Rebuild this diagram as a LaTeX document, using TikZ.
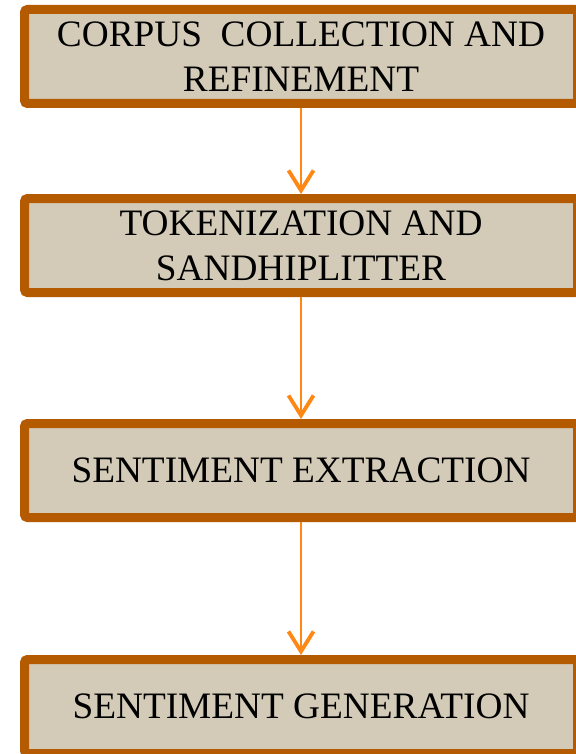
\documentclass[tikz,border=0pt]{standalone}
\usepackage{fontspec}
\setmainfont{Liberation Serif}
\usetikzlibrary{arrows.meta}
\definecolor{boxborder}{RGB}{180,90,0}
\definecolor{boxfill}{RGB}{211,203,183}
\definecolor{arrowline}{RGB}{255,136,20}
\begin{document}
\begin{tikzpicture}[x=1pt,y=1pt,
    stagebox/.style={draw=boxborder, fill=boxfill, line width=9pt, rounded corners=3pt,
        minimum width=553pt, minimum height=94pt, inner sep=0pt, align=center,
        font=\fontsize{37.3}{45}\selectfont},
    flow/.style={draw=arrowline, line width=1.8pt,
        -{Straight Barb[length=20pt, width=25pt, line width=3.8pt]}}]
            \useasboundingbox (0,0) rectangle (575,-754);
            % Define boxes
            \node[stagebox] (corpus) at (301,-56.5) {CORPUS\ \ COLLECTION AND\\REFINEMENT};
            \node[stagebox] (token) at (301,-245.5) {TOKENIZATION AND\\SANDHIPLITTER};
            \node[stagebox] (extract) at (301,-470.5) {SENTIMENT EXTRACTION};
            \node[stagebox] (generate) at (301,-706.5) {SENTIMENT GENERATION};

            % Draw arrows
            \draw[flow] (corpus) -- (token);
            \draw[flow] (token) -- (extract);
            \draw[flow] (extract) -- (generate);
        \end{tikzpicture}
\end{document}
